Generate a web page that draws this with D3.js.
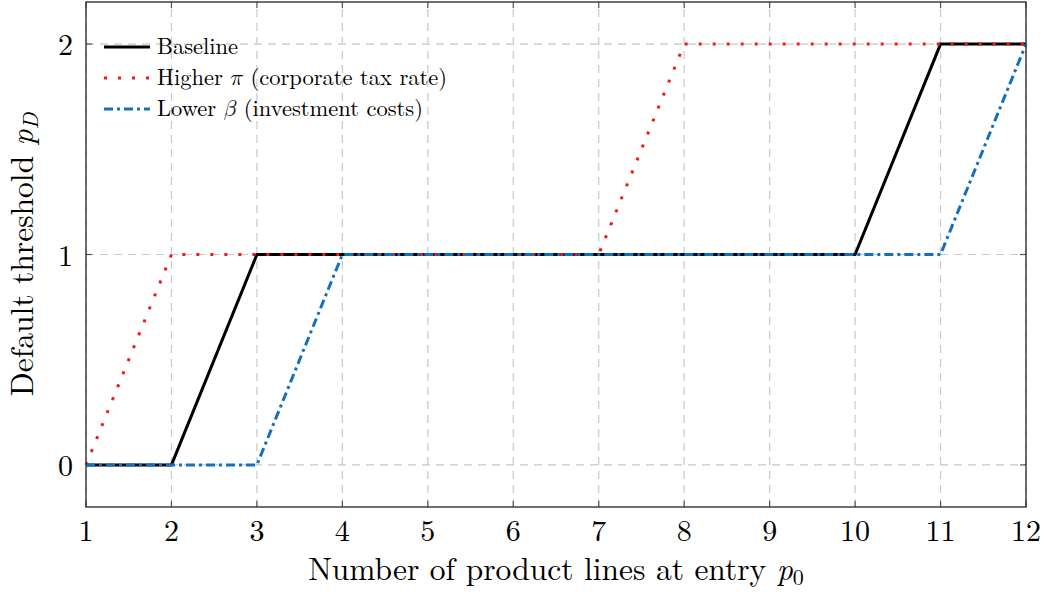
<!DOCTYPE html>
<html>
<head>
<meta charset="utf-8">
<script src="https://cdn.jsdelivr.net/npm/d3@7"></script>
<style>
  body { margin: 0; background: #fff; }
  text { font-family: "Latin Modern Roman", "CMU Serif", "DejaVu Serif", serif; fill: #000; }
  .math { font-family: "Latin Modern Math", "Latin Modern Roman", "DejaVu Serif", serif; }
</style>
</head>
<body>
<div id="chart"></div>
<script>
const entry = [1, 2, 3, 4, 5, 6, 7, 8, 9, 10, 11, 12];
const baseline = [0, 0, 1, 1, 1, 1, 1, 1, 1, 1, 2, 2];
const higherPi = [0, 1, 1, 1, 1, 1, 1, 2, 2, 2, 2, 2];
const lowerBeta = [0, 0, 0, 1, 1, 1, 1, 1, 1, 1, 1, 2];
const yTicks = [0, 1, 2];

const width = 1048, height = 592;
const margin = {top: 2, right: 22, bottom: 85, left: 86};

const svg = d3.select("#chart").append("svg")
  .attr("width", width)
  .attr("height", height);

const x = d3.scaleLinear().domain([1, 12]).range([margin.left, width - margin.right]);
const y = d3.scaleLinear().domain([-0.2, 2.2]).range([height - margin.bottom, margin.top]);

// grid
const grid = svg.append("g")
  .attr("stroke", "#c8c8c8")
  .attr("stroke-width", 1.2)
  .attr("stroke-dasharray", "8,6");
grid.selectAll(".vg").data(entry).enter().append("line")
  .attr("x1", d => x(d)).attr("x2", d => x(d))
  .attr("y1", y(-0.2)).attr("y2", y(2.2));
grid.selectAll(".hg").data(yTicks).enter().append("line")
  .attr("x1", x(1)).attr("x2", x(12))
  .attr("y1", d => y(d)).attr("y2", d => y(d));

// ticks on all four sides, pointing inwards
const tk = svg.append("g").attr("stroke", "#555").attr("stroke-width", 1.2);
entry.forEach(d => {
  tk.append("line").attr("x1", x(d)).attr("x2", x(d)).attr("y1", y(-0.2)).attr("y2", y(-0.2) - 6);
  tk.append("line").attr("x1", x(d)).attr("x2", x(d)).attr("y1", y(2.2)).attr("y2", y(2.2) + 6);
});
yTicks.forEach(d => {
  tk.append("line").attr("x1", x(1)).attr("x2", x(1) + 6).attr("y1", y(d)).attr("y2", y(d));
  tk.append("line").attr("x1", x(12)).attr("x2", x(12) - 6).attr("y1", y(d)).attr("y2", y(d));
});

// tick labels
svg.selectAll(".xl").data(entry).enter().append("text")
  .attr("x", d => x(d)).attr("y", y(-0.2) + 34)
  .attr("text-anchor", "middle")
  .style("font-size", "30px")
  .text(d => d);
svg.selectAll(".yl").data(yTicks).enter().append("text")
  .attr("x", x(1) - 13).attr("y", d => y(d) + 11)
  .attr("text-anchor", "end")
  .style("font-size", "30px")
  .text(d => d);

// axis titles
const xt = svg.append("text")
  .attr("x", (x(1) + x(12)) / 2).attr("y", 580)
  .attr("text-anchor", "middle")
  .style("font-size", "31.5px");
xt.append("tspan").text("Number of product lines at entry ");
xt.append("tspan").style("font-style", "italic").text("p");
xt.append("tspan").attr("dy", 5).style("font-size", "22px").text("0");

const yt = svg.append("text")
  .attr("transform", `translate(33,${y(1)}) rotate(-90)`)
  .attr("text-anchor", "middle")
  .style("font-size", "31.5px");
yt.append("tspan").text("Default threshold ");
yt.append("tspan").style("font-style", "italic").text("p");
yt.append("tspan").attr("dy", 5).style("font-size", "22px").style("font-style", "italic").text("D");

// lines
const series = [
  {name: "Baseline", values: baseline, color: "#000000", dash: null},
  {name: "Higher", values: higherPi, color: "#f01a1a", dash: "3,11"},
  {name: "Lower", values: lowerBeta, color: "#1570bb", dash: "9,4,3,4"}
];

const line = d3.line()
  .x((d, i) => x(entry[i]))
  .y(d => y(d));

svg.append("g").selectAll("path").data(series).enter().append("path")
  .attr("d", d => line(d.values))
  .attr("fill", "none")
  .attr("stroke", d => d.color)
  .attr("stroke-width", 3)
  .attr("stroke-dasharray", d => d.dash);

// frame
svg.append("rect")
  .attr("x", x(1)).attr("y", y(2.2))
  .attr("width", x(12) - x(1)).attr("height", y(-0.2) - y(2.2))
  .attr("fill", "none").attr("stroke", "#333").attr("stroke-width", 1.4);

// legend
const legend = svg.append("g");
const rows = [47, 78, 109];
series.forEach((s, i) => {
  legend.append("line")
    .attr("x1", 104).attr("x2", 150)
    .attr("y1", rows[i]).attr("y2", rows[i])
    .attr("stroke", s.color).attr("stroke-width", 3)
    .attr("stroke-dasharray", s.dash);
});
const fs = "22.5px";
const l1 = legend.append("text").attr("x", 157).attr("y", rows[0] + 7).style("font-size", fs);
l1.text("Baseline");
const l2 = legend.append("text").attr("x", 157).attr("y", rows[1] + 7).style("font-size", fs);
l2.append("tspan").text("Higher ");
l2.append("tspan").attr("class", "math").text("\u{1D70B}");
l2.append("tspan").text(" (corporate tax rate)");
const l3 = legend.append("text").attr("x", 157).attr("y", rows[2] + 7).style("font-size", fs);
l3.append("tspan").text("Lower ");
l3.append("tspan").attr("class", "math").text("\u{1D6FD}");
l3.append("tspan").text(" (investment costs)");
</script>
</body>
</html>
